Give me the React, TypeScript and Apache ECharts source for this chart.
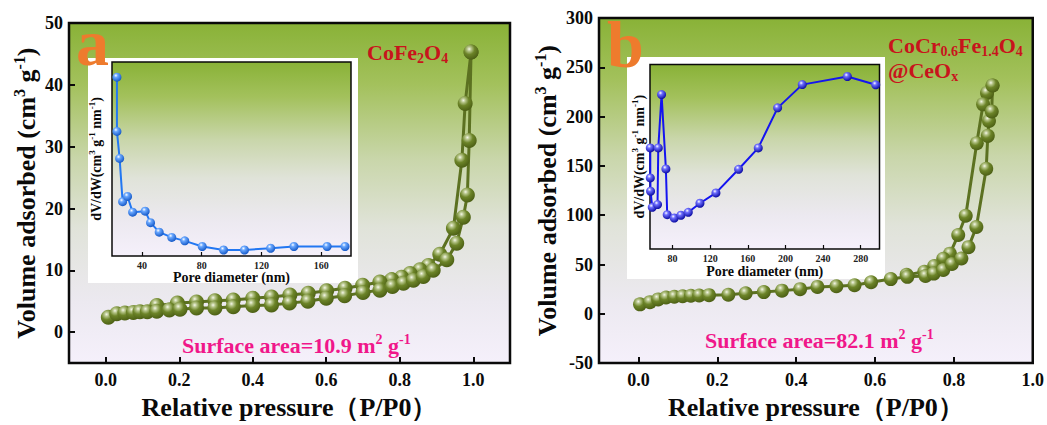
import React, { useEffect, useRef } from "react";
import * as echarts from "echarts";

const SERIF = "'Liberation Serif', 'Times New Roman', serif";

// (a) CoFe2O4 — N2 isotherm, adsorption branch
const aAdsP = [0.007, 0.03, 0.052, 0.075, 0.093, 0.113, 0.139, 0.173, 0.202, 0.247, 0.297, 0.347, 0.4, 0.451, 0.5, 0.55, 0.6, 0.65, 0.7, 0.746, 0.78, 0.81, 0.837, 0.864, 0.891, 0.928, 0.955, 0.973, 0.984, 0.989, 0.994];
const aAdsV = [2.4, 3.0, 3.1, 3.2, 3.3, 3.3, 3.4, 3.6, 3.7, 3.9, 3.9, 4.1, 4.3, 4.4, 4.7, 5.0, 5.5, 5.9, 6.4, 6.8, 7.4, 7.9, 8.4, 9.0, 10.0, 11.7, 14.4, 18.6, 22.2, 31.0, 45.3];
// (a) desorption branch
const aDesP = [0.994, 0.978, 0.969, 0.946, 0.909, 0.878, 0.855, 0.828, 0.805, 0.778, 0.746, 0.699, 0.651, 0.601, 0.551, 0.501, 0.451, 0.4, 0.347, 0.297, 0.247, 0.195, 0.139];
const aDesV = [45.3, 37.0, 27.8, 16.8, 12.6, 10.8, 10.1, 9.5, 8.9, 8.5, 8.1, 7.6, 7.1, 6.7, 6.3, 6.0, 5.7, 5.5, 5.2, 5.1, 4.9, 4.7, 4.3];
// (a) inset: pore size distribution
const aPoreD = [23.3, 23.3, 25.1, 27.1, 30.4, 33.8, 42.2, 45.8, 51.6, 60.0, 68.7, 80.4, 94.7, 108.7, 126.2, 141.8, 164.0, 176.0];
const aPoreDV = [92.2, 64.2, 50.3, 28.0, 30.7, 22.6, 23.1, 17.2, 12.3, 9.6, 7.8, 4.9, 3.1, 3.1, 4.0, 4.9, 4.9, 4.9];

// (b) CoCr0.6Fe1.4O4@CeOx — adsorption branch
const bAdsP = [0.004, 0.029, 0.05, 0.07, 0.091, 0.112, 0.133, 0.154, 0.179, 0.228, 0.272, 0.318, 0.364, 0.41, 0.454, 0.502, 0.548, 0.59, 0.64, 0.682, 0.728, 0.749, 0.773, 0.795, 0.819, 0.837, 0.857, 0.882, 0.886, 0.889, 0.896, 0.898];
const bAdsV = [9.6, 11.8, 14.6, 16.5, 17.3, 17.8, 18.3, 18.6, 18.9, 19.3, 20.8, 22.0, 23.5, 25.0, 27.3, 28.0, 29.0, 32.0, 35.2, 37.5, 38.3, 40.8, 44.4, 50.5, 56.1, 67.6, 88.0, 147.1, 180.5, 195.5, 205.2, 231.5];
// (b) desorption branch
const bDesP = [0.898, 0.884, 0.874, 0.858, 0.83, 0.811, 0.79, 0.773, 0.75, 0.725, 0.68];
const bDesV = [231.5, 224.0, 212.4, 173.0, 99.5, 79.9, 61.0, 55.8, 48.5, 42.7, 39.5];
// (b) inset: pore size distribution
const bPoreD = [56.3, 56.3, 56.6, 58.4, 64.0, 64.8, 68.3, 72.9, 74.3, 81.8, 88.9, 96.7, 109.1, 126.1, 150.2, 171.1, 191.7, 217.9, 265.8, 296.0];
const bPoreDV = [54.8, 38.5, 31.3, 22.6, 24.1, 54.8, 83.7, 43.4, 18.6, 16.8, 18.3, 19.9, 24.8, 30.4, 43.2, 54.8, 76.5, 89.1, 93.5, 89.0];

// tick positions
const pTicks = [0, 0.2, 0.4, 0.6, 0.8, 1.0];
const aVTicks = [0, 10, 20, 30, 40, 50];
const aPoreTicks = [40, 80, 120, 160];
const bPoreTicks = [80, 120, 160, 200, 240, 280];

const pairs = (xs: number[], ys: number[]) => xs.map((x, i) => [x, ys[i]]);

const bgGradient = () =>
  new echarts.graphic.LinearGradient(0, 0, 0, 1, [
    { offset: 0, color: "#89b237" },
    { offset: 0.18, color: "#a3c15c" },
    { offset: 0.4, color: "#c9d6aa" },
    { offset: 0.6, color: "#e0e3d9" },
    { offset: 0.82, color: "#ece9f0" },
    { offset: 1, color: "#f5f0fb" },
  ]);

const oliveBall = () =>
  new echarts.graphic.RadialGradient(0.38, 0.3, 0.72, [
    { offset: 0, color: "#f4f6e8" },
    { offset: 0.2, color: "#b5c488" },
    { offset: 0.5, color: "#6c8428" },
    { offset: 1, color: "#4b5e14" },
  ]);

const blueBall = (mid: string, edge: string) =>
  new echarts.graphic.RadialGradient(0.38, 0.32, 0.7, [
    { offset: 0, color: "#ffffff" },
    { offset: 0.3, color: mid },
    { offset: 1, color: edge },
  ]);

const black = "#0a0a0a";

const supRich = (size: number, sub: number) => ({
  t: { fontSize: size, fontWeight: "bold", fontFamily: SERIF, color: black, lineHeight: size + 4 },
  s: { fontSize: sub, fontWeight: "bold", fontFamily: SERIF, color: black, lineHeight: sub, verticalAlign: "top" },
});

function mainX(gridIndex: number, max: number) {
  return {
    type: "value",
    gridIndex,
    min: -0.1,
    max,
    axisLine: { show: false, onZero: false },
    axisTick: { show: true, inside: true, length: 6, customValues: pTicks, lineStyle: { color: black, width: 2 } },
    axisLabel: {
      customValues: pTicks,
      formatter: (v: number) => v.toFixed(1),
      color: black,
      fontSize: 18,
      fontWeight: "bold",
      fontFamily: SERIF,
      margin: 8,
    },
    splitLine: { show: false },
    name: "Relative pressure（P/P0）",
    nameLocation: "middle",
    nameGap: 30,
    nameTextStyle: { fontSize: 26, fontWeight: "bold", fontFamily: SERIF, color: black },
    z: 1,
  };
}

function mainY(gridIndex: number, min: number, max: number, extra: any, nameGap: number) {
  return {
    type: "value",
    gridIndex,
    min,
    max,
    axisLine: { show: false, onZero: false },
    axisTick: { show: true, inside: true, length: 6, lineStyle: { color: black, width: 2 }, ...(extra.tick || {}) },
    axisLabel: { color: black, fontSize: 18, fontWeight: "bold", fontFamily: SERIF, margin: 6, ...(extra.label || {}) },
    splitLine: { show: false },
    ...(extra.interval ? { interval: extra.interval } : {}),
    name: "{t|Volume adsorbed (cm}{s|3}{t| g}{s|-1}{t|)}",
    nameLocation: "middle",
    nameGap,
    nameTextStyle: { rich: supRich(26, 16) },
    z: 1,
  };
}

function insetX(gridIndex: number, min: number, max: number, ticks: number[], nameGap: number) {
  return {
    type: "value",
    gridIndex,
    min,
    max,
    axisLine: { show: false, onZero: false },
    axisTick: { show: true, inside: true, length: 4, customValues: ticks, lineStyle: { color: black, width: 1.2 } },
    axisLabel: { customValues: ticks, color: "#222", fontSize: 10, fontWeight: "bold", fontFamily: SERIF, margin: 4 },
    splitLine: { show: false },
    name: "Pore diameter (nm)",
    nameLocation: "middle",
    nameGap,
    nameTextStyle: { fontSize: 14, fontWeight: "bold", fontFamily: SERIF, color: black },
    z: 3,
  };
}

function insetY(gridIndex: number, nameGap: number) {
  return {
    type: "value",
    gridIndex,
    min: 0,
    max: 100,
    axisLine: { show: false, onZero: false },
    axisTick: { show: false },
    axisLabel: { show: false },
    splitLine: { show: false },
    name: "{t|dV/dW(cm}{s|3}{t| g}{s|-1}{t| nm}{s|-1}{t|)}",
    nameLocation: "middle",
    nameGap,
    nameTextStyle: { rich: supRich(14, 9) },
    z: 3,
  };
}

function isoSeries(axis: number, xs: number[], ys: number[], size: number) {
  return {
    type: "line",
    xAxisIndex: axis,
    yAxisIndex: axis,
    data: pairs(xs, ys),
    symbol: "circle",
    symbolSize: size,
    showAllSymbol: true,
    lineStyle: { color: "#5c7121", width: 3 },
    itemStyle: { color: oliveBall(), borderWidth: 0 },
    emphasis: { disabled: true },
    silent: true,
    z: 3,
  };
}

function poreSeries(axis: number, xs: number[], ys: number[], line: string, mid: string, edge: string) {
  return {
    type: "line",
    xAxisIndex: axis,
    yAxisIndex: axis,
    data: pairs(xs, ys),
    symbol: "circle",
    symbolSize: 9,
    showAllSymbol: true,
    lineStyle: { color: line, width: 2 },
    itemStyle: { color: blueBall(mid, edge), borderWidth: 0 },
    emphasis: { disabled: true },
    silent: true,
    z: 5,
  };
}

const richText = (fill: string, size: number, sub: number, pos: "sup" | "sub") => ({
  m: { fontSize: size, fontWeight: "bold", fontFamily: SERIF, fill, lineHeight: 26 },
  s: {
    fontSize: sub,
    fontWeight: "bold",
    fontFamily: SERIF,
    fill,
    lineHeight: 12,
    verticalAlign: pos === "sup" ? "top" : "bottom",
  },
});

export default function App() {
  const ref = useRef<HTMLDivElement>(null);

  useEffect(() => {
    if (!ref.current) return;
    const chart = echarts.init(ref.current, undefined, { renderer: "svg" });
    const red = "#c8141c";
    const pink = "#f0178a";
    const orange = "#ee7b2d";

    chart.setOption({
      animation: false,
      grid: [
        { left: 69, top: 23, width: 441, height: 349, show: true, backgroundColor: bgGradient(), borderColor: black, borderWidth: 2.5, z: 0 },
        { left: 112, top: 62, width: 239, height: 194, show: true, backgroundColor: bgGradient(), borderColor: black, borderWidth: 1.5, z: 2 },
        { left: 599, top: 18, width: 438, height: 352, show: true, backgroundColor: bgGradient(), borderColor: black, borderWidth: 2.5, z: 0 },
        { left: 650, top: 64.5, width: 229.5, height: 184.5, show: true, backgroundColor: bgGradient(), borderColor: black, borderWidth: 1.5, z: 2 },
      ],
      xAxis: [
        mainX(0, 1.1),
        insetX(1, 20, 180, aPoreTicks, 14),
        mainX(2, 1.0),
        insetX(3, 56, 300, bPoreTicks, 15),
      ],
      yAxis: [
        mainY(0, -5, 50, { tick: { customValues: aVTicks }, label: { customValues: aVTicks } }, 28),
        insetY(1, 7),
        mainY(2, -50, 300, { interval: 50 }, 37),
        insetY(3, 2),
      ],
      series: [
        isoSeries(0, aDesP, aDesV, 15),
        isoSeries(0, aAdsP, aAdsV, 15),
        poreSeries(1, aPoreD, aPoreDV, "#2277f2", "#6aa8ff", "#1357c6"),
        isoSeries(2, bDesP, bDesV, 14),
        isoSeries(2, bAdsP, bAdsV, 14),
        poreSeries(3, bPoreD, bPoreDV, "#1414f0", "#6f6fff", "#0808a0"),
      ],
      graphic: [
        { type: "rect", shape: { x: 88, y: 58, width: 270, height: 225 }, style: { fill: "#ffffff" }, z: 1, silent: true },
        { type: "rect", shape: { x: 627, y: 57, width: 258, height: 222 }, style: { fill: "#ffffff" }, z: 1, silent: true },
        {
          type: "text", x: 76, y: 42.6, z: 10, silent: true,
          style: { text: "a", fill: orange, fontSize: 66, fontWeight: "bold", fontFamily: SERIF, verticalAlign: "middle" },
        },
        {
          type: "text", x: 607, y: 44.6, z: 10, silent: true,
          style: { text: "b", fill: orange, fontSize: 66, fontWeight: "bold", fontFamily: SERIF, verticalAlign: "middle" },
        },
        {
          type: "text", x: 367, y: 52.5, z: 10, silent: true,
          style: { text: "{m|CoFe}{s|2}{m|O}{s|4}", rich: richText(red, 22, 14, "sub"), verticalAlign: "middle" },
        },
        {
          type: "text", x: 888, y: 58, z: 10, silent: true,
          style: {
            text: "{m|CoCr}{s|0.6}{m|Fe}{s|1.4}{m|O}{s|4}\n{m|@CeO}{s|x}",
            rich: {
              m: { fontSize: 22, fontWeight: "bold", fontFamily: SERIF, fill: red, lineHeight: 25 },
              s: { fontSize: 14, fontWeight: "bold", fontFamily: SERIF, fill: red, lineHeight: 12, verticalAlign: "bottom" },
            },
            verticalAlign: "middle",
          },
        },
        {
          type: "text", x: 182, y: 345.5, z: 10, silent: true,
          style: { text: "{m|Surface area=10.9 m}{s|2}{m| g}{s|-1}", rich: richText(pink, 22, 14, "sup"), verticalAlign: "middle" },
        },
        {
          type: "text", x: 705, y: 340, z: 10, silent: true,
          style: { text: "{m|Surface area=82.1 m}{s|2}{m| g}{s|-1}", rich: richText(pink, 22, 14, "sup"), verticalAlign: "middle" },
        },
      ],
    });
    return () => chart.dispose();
  }, []);

  return <div ref={ref} style={{ position: "absolute", left: 0, top: 0, width: 1047, height: 425, background: "#ffffff" }} />;
}
